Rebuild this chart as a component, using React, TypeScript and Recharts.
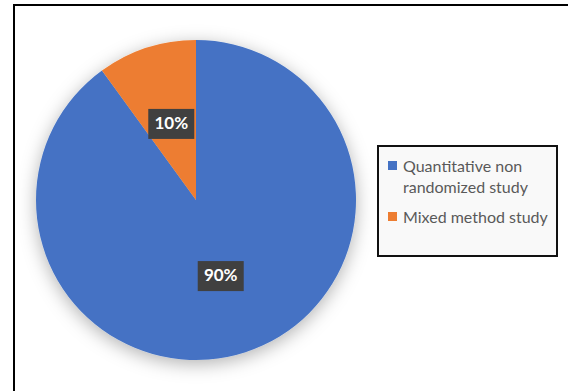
import { PieChart, Pie, Cell, Legend } from "recharts";

const CATEGORIES = ["Quantitative non randomized study", "Mixed method study"];
const VALUES = [90, 10];
const COLORS = ["#4472C4", "#ED7D31"];

const data = CATEGORIES.map((name, i) => ({ name, value: VALUES[i] }));

const RAD = Math.PI / 180;

function renderLabel(props: any) {
  const { cx, cy, midAngle, outerRadius, percent } = props;
  const d = outerRadius * 0.5;
  const x = cx + d * Math.cos(-midAngle * RAD);
  const y = cy + d * Math.sin(-midAngle * RAD);
  const w = 46;
  const h = 30;
  return (
    <g>
      <rect x={x - w / 2} y={y - h / 2} width={w} height={h} fill="#404040" />
      <text
        x={x}
        y={y + 1}
        fill="#ffffff"
        textAnchor="middle"
        dominantBaseline="middle"
        fontSize={17}
        fontWeight="bold"
        fontFamily="Lato, 'Open Sans', sans-serif"
      >
        {`${Math.round(percent * 100)}%`}
      </text>
    </g>
  );
}

function LegendBox({ payload }: any) {
  const items = [...(payload || [])].sort(
    (a: any, b: any) => CATEGORIES.indexOf(a.value) - CATEGORIES.indexOf(b.value)
  );
  return (
    <div
      style={{
        boxSizing: "border-box",
        width: 181,
        height: 112,
        border: "2px solid #111",
        background: "#f9f9f9",
        padding: "8px 4px 0 9px",
        fontFamily: "Lato, 'Open Sans', sans-serif",
        fontSize: 16,
        lineHeight: "21px",
        color: "#595959",
        textAlign: "left",
      }}
    >
      {items.map((p: any, i: number) => (
        <div key={i} style={{ display: "flex", alignItems: "flex-start", marginBottom: 9 }}>
          <span
            style={{
              width: 9,
              height: 9,
              background: p.color,
              marginTop: 6,
              marginRight: 6,
              flexShrink: 0,
            }}
          />
          <span>{p.value}</span>
        </div>
      ))}
    </div>
  );
}

export default function App() {
  return (
    <div style={{ position: "absolute", left: 0, top: 0, width: 568, height: 391, background: "#fff", overflow: "hidden" }}>
      <style>{`.pie-shadow .recharts-pie-sectors, .pie-shadow g.recharts-pie { filter: url(#pieShadow); }`}</style>
      <div
        style={{
          position: "absolute",
          left: 13,
          top: 4,
          width: 600,
          height: 400,
          borderLeft: "2px solid #000",
          borderTop: "2px solid #000",
        }}
      />
      <div className="pie-shadow" style={{ position: "absolute", left: 0, top: 0 }}>
        <PieChart width={568} height={391} margin={{ top: 0, right: 0, bottom: 0, left: 0 }}>
          <defs>
            <filter id="pieShadow" x="-30%" y="-30%" width="160%" height="160%">
              <feDropShadow dx="0" dy="4" stdDeviation="9" floodColor="#000" floodOpacity="0.3" />
            </filter>
          </defs>
          <Pie
            data={data}
            dataKey="value"
            nameKey="name"
            cx={196}
            cy={200}
            outerRadius={160}
            startAngle={90}
            endAngle={-270}
            stroke="none"
            label={renderLabel}
            labelLine={false}
            isAnimationActive={false}
          >
            {data.map((_, i) => (
              <Cell key={i} fill={COLORS[i]} />
            ))}
          </Pie>
          <Legend
            content={<LegendBox />}
            wrapperStyle={{ position: "absolute", left: 377, top: 145, width: 181, bottom: "auto" }}
          />
        </PieChart>
      </div>
    </div>
  );
}
